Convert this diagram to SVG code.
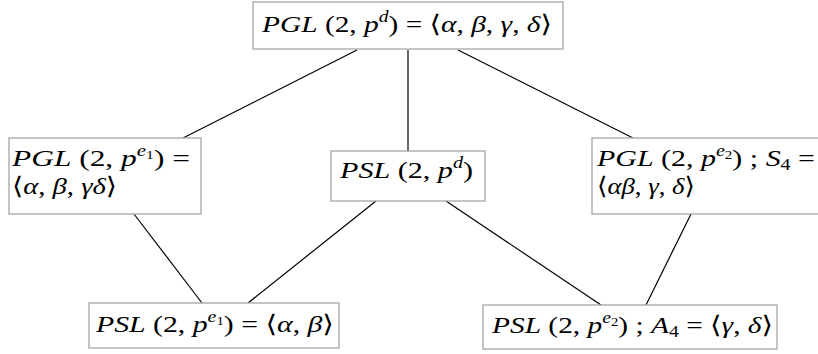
<svg xmlns="http://www.w3.org/2000/svg" width="818" height="354" viewBox="0 0 818 354">
<style>
.box{fill:#fff;stroke:#a6a6a6;stroke-width:1.3}
.t{font-family:"Liberation Serif","DejaVu Serif",serif;font-size:24px;fill:#000}
.i{font-style:italic}
.sup{font-size:16px}
.sub{font-size:12px}
.edge{stroke:#000;stroke-width:1.2;fill:none}
</style>
<rect width="818" height="354" fill="#fff"/>
<g id="connectors">
<line class="edge" x1="357" y1="50" x2="183" y2="138"/>
<line class="edge" x1="408" y1="50" x2="408" y2="151"/>
<line class="edge" x1="458" y1="50" x2="633" y2="138"/>
<line class="edge" x1="134" y1="214" x2="202" y2="303"/>
<line class="edge" x1="376" y1="201" x2="248" y2="303"/>
<line class="edge" x1="446" y1="201" x2="601" y2="305"/>
<line class="edge" x1="691" y1="214" x2="646" y2="305"/>
</g>
<g id="n-top">
<rect class="box" x="253" y="2" width="310" height="47"/>
<text class="t" x="262" y="32" textLength="290" lengthAdjust="spacingAndGlyphs"><tspan class="i">PGL</tspan> (2, <tspan class="i">p</tspan><tspan class="i sup" dy="-10">d</tspan><tspan dy="10">) = ⟨</tspan><tspan class="i">α</tspan>, <tspan class="i">β</tspan>, <tspan class="i">γ</tspan>, <tspan class="i">δ</tspan>⟩</text>
</g>
<g id="n-left">
<rect class="box" x="9" y="138" width="192" height="76"/>
<text class="t" x="12" y="166" textLength="178" lengthAdjust="spacingAndGlyphs"><tspan class="i">PGL</tspan> (2, <tspan class="i">p</tspan><tspan class="i sup" dy="-10">e</tspan><tspan class="sub" dy="3">1</tspan><tspan dy="7">) =</tspan></text>
<text class="t" x="12" y="194" textLength="105" lengthAdjust="spacingAndGlyphs">⟨<tspan class="i">α</tspan>, <tspan class="i">β</tspan>, <tspan class="i">γδ</tspan>⟩</text>
</g>
<g id="n-center">
<rect class="box" x="331" y="151" width="154" height="50"/>
<text class="t" x="340" y="178" textLength="133" lengthAdjust="spacingAndGlyphs"><tspan class="i">PSL</tspan> (2, <tspan class="i">p</tspan><tspan class="i sup" dy="-10">d</tspan><tspan dy="10">)</tspan></text>
</g>
<g id="n-right">
<rect class="box" x="592" y="138" width="240" height="76"/>
<text class="t" x="597" y="166" textLength="218" lengthAdjust="spacingAndGlyphs"><tspan class="i">PGL</tspan> (2, <tspan class="i">p</tspan><tspan class="i sup" dy="-10">e</tspan><tspan class="sub" dy="3">2</tspan><tspan dy="7">) ; </tspan><tspan class="i">S</tspan><tspan class="sup" dy="4">4</tspan><tspan dy="-4"> =</tspan></text>
<text class="t" x="597" y="194" textLength="98" lengthAdjust="spacingAndGlyphs">⟨<tspan class="i">αβ</tspan>, <tspan class="i">γ</tspan>, <tspan class="i">δ</tspan>⟩</text>
</g>
<g id="n-bottom-left">
<rect class="box" x="89" y="303" width="250" height="45"/>
<text class="t" x="96" y="332" textLength="238" lengthAdjust="spacingAndGlyphs"><tspan class="i">PSL</tspan> (2, <tspan class="i">p</tspan><tspan class="i sup" dy="-10">e</tspan><tspan class="sub" dy="3">1</tspan><tspan dy="7">) = ⟨</tspan><tspan class="i">α</tspan>, <tspan class="i">β</tspan>⟩</text>
</g>
<g id="n-bottom-right">
<rect class="box" x="483" y="305" width="294" height="44"/>
<text class="t" x="492" y="333" textLength="281" lengthAdjust="spacingAndGlyphs"><tspan class="i">PSL</tspan> (2, <tspan class="i">p</tspan><tspan class="i sup" dy="-10">e</tspan><tspan class="sub" dy="3">2</tspan><tspan dy="7">) ; </tspan><tspan class="i">A</tspan><tspan class="sup" dy="4">4</tspan><tspan dy="-4"> = ⟨</tspan><tspan class="i">γ</tspan>, <tspan class="i">δ</tspan>⟩</text>
</g>
</svg>
